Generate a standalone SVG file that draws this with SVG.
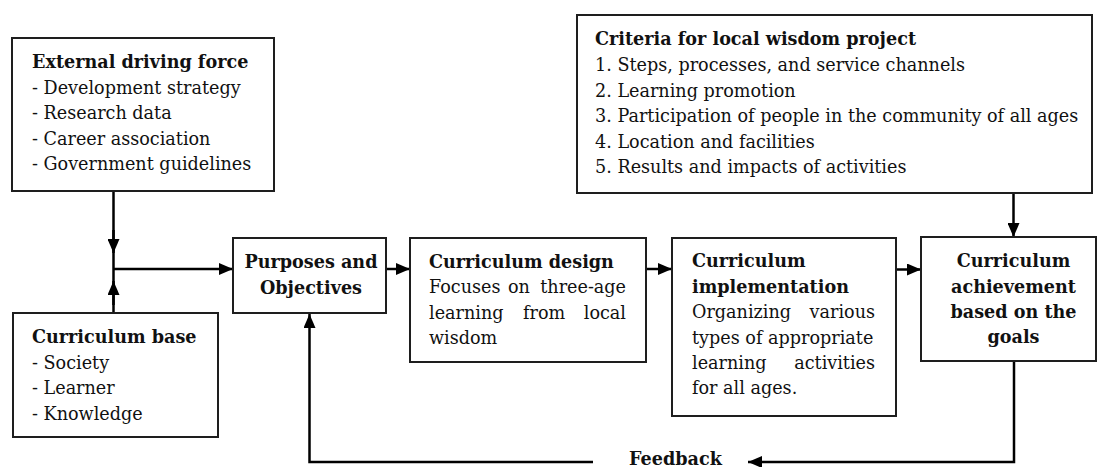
<svg xmlns="http://www.w3.org/2000/svg" width="1097" height="467" viewBox="0 0 1097 467">
  <style>
    .box { fill: #ffffff; stroke: #1e1e1e; stroke-width: 2; }
    .txt { font-family: "DejaVu Serif", "Liberation Serif", serif; font-size: 17.6px; fill: #111111; }
    .b { font-weight: bold; }
    .mid { text-anchor: middle; }
    .end { text-anchor: end; }
    .wire { fill: none; stroke: #000000; stroke-width: 2.5; }
    .arrow { fill: none; stroke: #000000; stroke-width: 2.5; marker-end: url(#head); }
  </style>
  <defs>
    <marker id="head" viewBox="0 0 14 12" refX="14" refY="6" markerWidth="14" markerHeight="12" markerUnits="userSpaceOnUse" orient="auto">
      <path d="M0,0 L14,6 L0,12 Z" fill="#000000"/>
    </marker>
  </defs>

  <rect width="1097" height="467" fill="#ffffff"/>

  <!-- connectors -->
  <g id="connectors">
    <path class="wire" d="M113.5,191 V313"/>
    <path class="arrow" d="M113.5,230 V253"/>
    <path class="arrow" d="M113.5,305 V281"/>
    <path class="arrow" d="M113.5,269 H233"/>
    <path class="arrow" d="M386,269 H410"/>
    <path class="arrow" d="M646,269 H672"/>
    <path class="arrow" d="M896,269.5 H921"/>
    <path class="arrow" d="M1013.5,193 V237"/>
    <path class="arrow" d="M1014,361 V462 H748"/>
    <path class="arrow" d="M593,462 H309.5 V314"/>
  </g>

  <!-- external driving force -->
  <g id="external-driving-force">
    <rect class="box" x="12" y="38" width="262" height="153"/>
    <text class="txt b" x="32" y="68">External driving force</text>
    <text class="txt" x="32" y="93.5">- Development strategy</text>
    <text class="txt" x="32" y="119">- Research data</text>
    <text class="txt" x="32" y="144.5">- Career association</text>
    <text class="txt" x="32" y="170">- Government guidelines</text>
  </g>

  <!-- curriculum base -->
  <g id="curriculum-base">
    <rect class="box" x="13" y="313" width="205" height="124"/>
    <text class="txt b" x="32" y="343">Curriculum base</text>
    <text class="txt" x="32" y="368.5">- Society</text>
    <text class="txt" x="32" y="394">- Learner</text>
    <text class="txt" x="32" y="419.5">- Knowledge</text>
  </g>

  <!-- purposes and objectives -->
  <g id="purposes-objectives">
    <rect class="box" x="233" y="238" width="153" height="75"/>
    <text class="txt b mid" x="311" y="268">Purposes and</text>
    <text class="txt b mid" x="311" y="293.5">Objectives</text>
  </g>

  <!-- curriculum design -->
  <g id="curriculum-design">
    <rect class="box" x="410" y="238" width="236" height="124"/>
    <text class="txt b" x="429" y="267.5">Curriculum design</text>
    <text class="txt" y="293"><tspan x="429">Focuses</tspan><tspan x="508">on</tspan><tspan class="end" x="626">three-age</tspan></text>
    <text class="txt" y="318.5"><tspan x="429">learning</tspan><tspan x="523">from</tspan><tspan class="end" x="626">local</tspan></text>
    <text class="txt" x="429" y="344">wisdom</text>
  </g>

  <!-- curriculum implementation -->
  <g id="curriculum-implementation">
    <rect class="box" x="672" y="238" width="224" height="178"/>
    <text class="txt b" x="692" y="267">Curriculum</text>
    <text class="txt b" x="692" y="293">implementation</text>
    <text class="txt" y="318"><tspan x="692">Organizing</tspan><tspan class="end" x="875">various</tspan></text>
    <text class="txt" x="692" y="343.5">types of appropriate</text>
    <text class="txt" y="369"><tspan x="692">learning</tspan><tspan class="end" x="875">activities</tspan></text>
    <text class="txt" x="692" y="394">for all ages.</text>
  </g>

  <!-- curriculum achievement -->
  <g id="curriculum-achievement">
    <rect class="box" x="921" y="237" width="175" height="124"/>
    <text class="txt b mid" x="1013.5" y="267">Curriculum</text>
    <text class="txt b mid" x="1013.5" y="293">achievement</text>
    <text class="txt b mid" x="1013.5" y="318">based on the</text>
    <text class="txt b mid" x="1013.5" y="343">goals</text>
  </g>

  <!-- criteria for local wisdom project -->
  <g id="criteria">
    <rect class="box" x="577" y="15" width="515" height="178"/>
    <text class="txt b" x="595" y="45">Criteria for local wisdom project</text>
    <text class="txt" x="595" y="71">1. Steps, processes, and service channels</text>
    <text class="txt" x="595" y="96.5">2. Learning promotion</text>
    <text class="txt" x="595" y="122">3. Participation of people in the community of all ages</text>
    <text class="txt" x="595" y="147.5">4. Location and facilities</text>
    <text class="txt" x="595" y="173">5. Results and impacts of activities</text>
  </g>

  <!-- feedback label -->
  <g id="feedback">
    <text class="txt b" x="629" y="464.5">Feedback</text>
  </g>
</svg>
